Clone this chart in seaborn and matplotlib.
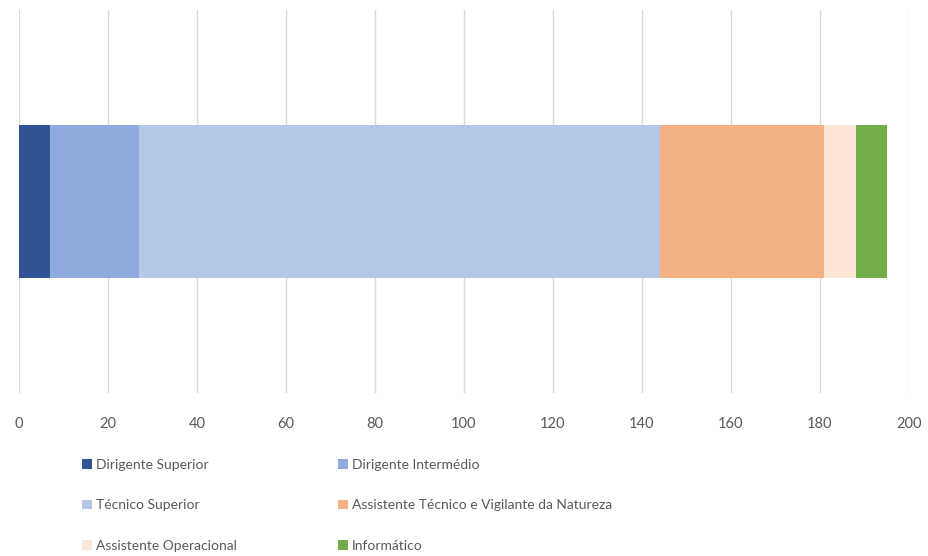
import numpy as np
import pandas as pd
import matplotlib.pyplot as plt
import seaborn as sns
from matplotlib.patches import Patch

# Data
categorias = ["Dirigente Superior", "Dirigente Intermédio", "Técnico Superior",
              "Assistente Técnico e Vigilante da Natureza", "Assistente Operacional",
              "Informático"]
valores = [7, 20, 117, 37, 7, 7]
cores = ["#2F5597", "#8FAADC", "#B4C7E7", "#F4B183", "#FBE5D6", "#70AD47"]
ticks = [0, 20, 40, 60, 80, 100, 120, 140, 160, 180, 200]

sns.set_theme(style="white")
plt.rcParams["font.family"] = ["Lato", "DejaVu Sans"]

fig = plt.figure(figsize=(9.29, 5.56), dpi=100)
ax = fig.add_axes([19 / 929, 1 - 393 / 556, 890 / 929, 383 / 556])

# stacked bar: draw cumulative totals from the largest down so each overlays the previous
cum = np.cumsum(valores)
for total, cor in zip(cum[::-1], cores[::-1]):
    df = pd.DataFrame({"grupo": [""], "total": [total]})
    sns.barplot(data=df, x="total", y="grupo", color=cor, orient="h", width=0.4,
                saturation=1, linewidth=0, ax=ax, zorder=3)

ax.set_xlim(0, 200)
ax.set_ylim(0.5, -0.5)
ax.set_xticks(ticks)
ax.set_xticklabels([str(t) for t in ticks], color="#595959", fontsize=10.5)
ax.tick_params(axis="x", length=0, pad=17)
ax.set_yticks([])
ax.set_xlabel("")
ax.set_ylabel("")
ax.grid(axis="x", color="#D9D9D9", linewidth=1, zorder=0)
for s in ax.spines.values():
    s.set_visible(False)

# legend in two columns
handles = [Patch(facecolor=c, edgecolor="none") for c in cores]
col1 = [0, 2, 4]
col2 = [1, 3, 5]
for idx, xpos in [(col1, 82 / 929), (col2, 338 / 929)]:
    leg = fig.legend([handles[i] for i in idx], [categorias[i] for i in idx],
                     loc="upper left", bbox_to_anchor=(xpos, 1 - 459 / 556),
                     frameon=False, fontsize=10, labelspacing=2.05,
                     handlelength=0.7, handleheight=0.7, handletextpad=0.3,
                     borderaxespad=0, borderpad=0)
    for t in leg.get_texts():
        t.set_color("#595959")

fig.savefig("out.png", dpi=100)
